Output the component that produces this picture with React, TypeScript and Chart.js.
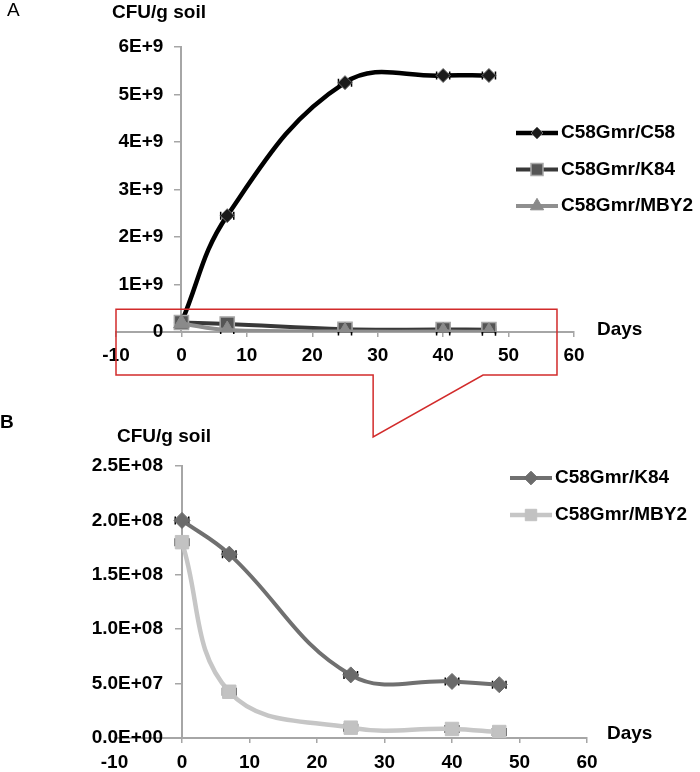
import React, { useEffect, useRef } from 'react';
import { Chart, registerables } from 'chart.js';
import { drawPoint } from 'chart.js/helpers';

Chart.register(...registerables);

// ---------- data ----------
const days = [0, 7, 25, 40, 47];
const dayErr = [1, 1, 1, 1, 1];
const xMin = -10;
const xMax = 60;
const xStep = 10;

const c58 = [2.0e8, 2.45e9, 5.25e9, 5.4e9, 5.4e9];
const k84 = [2.0e8, 1.69e8, 5.8e7, 5.2e7, 4.9e7];
const mby2 = [1.8e8, 4.25e7, 9.5e6, 8.3e6, 5.5e6];

const namesA = ['C58Gmr/C58', 'C58Gmr/K84', 'C58Gmr/MBY2'];
const namesB = ['C58Gmr/K84', 'C58Gmr/MBY2'];

const yMaxA = 6e9;
const yStepA = 1e9;
const yMaxB = 2.5e8;
const yStepB = 5e7;

const yTitle = 'CFU/g soil';
const xTitle = 'Days';
const panelA = 'A';
const panelB = 'B';

// ---------- helpers ----------
const FONT = '"Liberation Sans", Arial, Helvetica, sans-serif';
const tickFont = { family: FONT, size: 19, weight: 'bold' as const };
const AXIS_GRAY = '#a6a6a6';

function sci(v: number, digits: number, padExp: boolean): string {
  const [m, e] = v.toExponential(digits).split('e');
  const n = parseInt(e, 10);
  const sign = n < 0 ? '-' : '+';
  const ea = String(Math.abs(n));
  return `${m}E${sign}${padExp ? ea.padStart(2, '0') : ea}`;
}

const pts = (ys: number[]) => days.map((d, i) => ({ x: d, y: ys[i] }));

const decorPlugin = {
  id: 'decor',
  beforeDraw(chart: any, _args: any, opts: any) {
    // y axis sits at x = 0: move its labels away from the axis line
    const ys = chart.scales.y;
    const items = ys.getLabelItems(chart.chartArea);
    items.forEach((it: any) => {
      if (it.__shifted) return;
      it.__shifted = true;
      it.options.translation = [it.options.translation[0] - (opts.yLabelShift || 0), it.options.translation[1]];
    });
  },
  beforeDatasetsDraw(chart: any) {
    const ctx = chart.ctx;
    const xs = chart.scales.x;
    const ys = chart.scales.y;
    ctx.save();
    chart.data.datasets.forEach((ds: any) => {
      if (!ds.xErr) return;
      ds.data.forEach((p: any, i: number) => {
        const e = ds.xErr[i];
        const x0 = xs.getPixelForValue(p.x - e);
        const x1 = xs.getPixelForValue(p.x + e);
        const y = ys.getPixelForValue(p.y);
        ctx.strokeStyle = '#000';
        ctx.lineWidth = 1.5;
        ctx.beginPath();
        ctx.moveTo(x0, y);
        ctx.lineTo(x1, y);
        ctx.moveTo(x0, y - 4);
        ctx.lineTo(x0, y + 4);
        ctx.moveTo(x1, y - 4);
        ctx.lineTo(x1, y + 4);
        ctx.stroke();
      });
    });
    ctx.restore();
  },
  afterDraw(chart: any, _args: any, opts: any) {
    const ctx = chart.ctx;
    const xs = chart.scales.x;
    const ys = chart.scales.y;
    ctx.save();
    ctx.textBaseline = 'middle';
    ctx.textAlign = 'left';
    ctx.fillStyle = '#000';
    (opts.texts || []).forEach((t: any) => {
      ctx.font = `${t.weight} ${t.size}px ${FONT}`;
      ctx.fillText(t.text, t.x, t.y);
    });
    const lg = opts.legend;
    if (lg) {
      chart.data.datasets.forEach((ds: any, i: number) => {
        const y = lg.y0 + i * lg.dy;
        ctx.strokeStyle = ds.borderColor;
        ctx.lineWidth = ds.borderWidth;
        ctx.lineCap = 'butt';
        ctx.beginPath();
        ctx.moveTo(lg.x, y);
        ctx.lineTo(lg.x + lg.len, y);
        ctx.stroke();
        ctx.fillStyle = ds.pointBackgroundColor;
        ctx.strokeStyle = ds.pointBorderColor;
        ctx.lineWidth = ds.pointBorderWidth;
        drawPoint(
          ctx,
          { pointStyle: ds.pointStyle, radius: ds.pointRadius * lg.scale, rotation: 0, borderWidth: ds.pointBorderWidth },
          lg.x + lg.len / 2,
          y
        );
        ctx.fillStyle = '#000';
        ctx.font = `bold 19px ${FONT}`;
        ctx.fillText(ds.label, lg.x + lg.len + lg.gap, y);
      });
    }
    const co = opts.callout;
    if (co) {
      const l = xs.getPixelForValue(co.x0);
      const r = xs.getPixelForValue(co.x1);
      const t = ys.getPixelForValue(co.yTop);
      const b = ys.getPixelForValue(0) + co.bottomOffset;
      const tipX = xs.getPixelForValue(co.tipX);
      const baseX = xs.getPixelForValue(co.baseX);
      ctx.strokeStyle = '#d22b2b';
      ctx.lineWidth = 1.5;
      ctx.beginPath();
      ctx.moveTo(l, t);
      ctx.lineTo(r, t);
      ctx.lineTo(r, b);
      ctx.lineTo(baseX, b);
      ctx.lineTo(tipX, co.tipY);
      ctx.lineTo(tipX, b);
      ctx.lineTo(l, b);
      ctx.closePath();
      ctx.stroke();
    }
    ctx.restore();
  },
};

function xScale(padding: number, height: number) {
  return {
    type: 'linear' as const,
    min: xMin,
    max: xMax,
    position: 'bottom' as const,
    afterFit: (s: any) => {
      s.height = height;
    },
    ticks: { stepSize: xStep, font: tickFont, color: '#000', padding, maxRotation: 0, autoSkip: false },
    grid: { drawOnChartArea: false, drawTicks: true, tickLength: 5, color: AXIS_GRAY, lineWidth: 1.5 },
    border: { color: AXIS_GRAY, width: 2 },
  };
}

function yScale(max: number, step: number, fmt: (v: number) => string) {
  return {
    type: 'linear' as const,
    min: 0,
    max,
    position: { x: 0 } as any,
    afterFit: (s: any) => {
      s.width = 0;
    },
    ticks: { stepSize: step, font: tickFont, color: '#000', padding: 12, callback: (v: any) => fmt(Number(v)) },
    grid: { drawOnChartArea: false, drawTicks: true, tickLength: 6, color: AXIS_GRAY, lineWidth: 1.5 },
    border: { color: AXIS_GRAY, width: 2 },
  };
}

function configA(): any {
  return {
    type: 'line',
    data: {
      datasets: [
        {
          label: namesA[0],
          data: pts(c58),
          xErr: dayErr,
          borderColor: '#000000',
          borderWidth: 4.5,
          pointStyle: 'rectRot',
          pointRadius: 7,
          pointBackgroundColor: '#1a1a1a',
          pointBorderColor: '#6e6e6e',
          pointBorderWidth: 1,
          tension: 0.4,
          order: 2,
        },
        {
          label: namesA[1],
          data: pts(k84),
          xErr: dayErr,
          borderColor: '#383838',
          borderWidth: 4,
          pointStyle: 'rect',
          pointRadius: 10,
          pointBackgroundColor: '#555555',
          pointBorderColor: '#a8a8a8',
          pointBorderWidth: 1.5,
          tension: 0.4,
          order: 1,
        },
        {
          label: namesA[2],
          data: pts(mby2),
          xErr: dayErr,
          borderColor: '#8f8f8f',
          borderWidth: 4,
          pointStyle: 'triangle',
          pointRadius: 9,
          pointBackgroundColor: '#8a8a8a',
          pointBorderColor: '#8a8a8a',
          pointBorderWidth: 1,
          tension: 0.4,
          order: 0,
        },
      ],
    },
    options: {
      responsive: false,
      animation: false,
      events: [],
      layout: { padding: { left: 116, right: 126, top: 47, bottom: 78 } },
      scales: {
        x: xScale(7, 35),
        y: yScale(yMaxA, yStepA, (v) => (v === 0 ? '0' : sci(v, 0, false))),
      },
      plugins: {
        legend: { display: false },
        tooltip: { enabled: false },
        decor: {
          yLabelShift: 18,
          texts: [
            { text: panelA, x: 7, y: 11, size: 19, weight: 'normal' },
            { text: yTitle, x: 112, y: 13, size: 19, weight: 'bold' },
            { text: xTitle, x: 597, y: 330, size: 19, weight: 'bold' },
          ],
          legend: { x: 516, y0: 133, dy: 36.5, len: 42, gap: 3, scale: 0.85 },
          callout: { x0: -10, x1: 57.4, yTop: 4.8e8, bottomOffset: 43, tipX: 29.3, baseX: 46.1, tipY: 437 },
        },
      },
    },
    plugins: [decorPlugin],
  };
}

function configB(): any {
  return {
    type: 'line',
    data: {
      datasets: [
        {
          label: namesB[0],
          data: pts(k84),
          xErr: dayErr,
          borderColor: '#707070',
          borderWidth: 4,
          pointStyle: 'rectRot',
          pointRadius: 8,
          pointBackgroundColor: '#6b6b6b',
          pointBorderColor: '#6b6b6b',
          pointBorderWidth: 1,
          tension: 0.4,
          order: 1,
        },
        {
          label: namesB[1],
          data: pts(mby2),
          xErr: dayErr,
          borderColor: '#c6c6c6',
          borderWidth: 4.5,
          pointStyle: 'rect',
          pointRadius: 9.5,
          pointBackgroundColor: '#c2c2c2',
          pointBorderColor: '#c2c2c2',
          pointBorderWidth: 1,
          tension: 0.4,
          order: 0,
        },
      ],
    },
    options: {
      responsive: false,
      animation: false,
      events: [],
      layout: { padding: { left: 114.5, right: 113, top: 71, bottom: 0 } },
      scales: {
        x: xScale(8, 34),
        y: yScale(yMaxB, yStepB, (v) => sci(v, 1, true)),
      },
      plugins: {
        legend: { display: false },
        tooltip: { enabled: false },
        decor: {
          yLabelShift: 19,
          texts: [
            { text: panelB, x: 0, y: 28, size: 19, weight: 'bold' },
            { text: yTitle, x: 117, y: 42, size: 19, weight: 'bold' },
            { text: xTitle, x: 607, y: 339, size: 19, weight: 'bold' },
          ],
          legend: { x: 510, y0: 83, dy: 37, len: 42, gap: 3, scale: 0.85 },
        },
      },
    },
    plugins: [decorPlugin],
  };
}

function Panel({ make, top, height }: { make: () => any; top: number; height: number }) {
  const ref = useRef<HTMLCanvasElement>(null);
  useEffect(() => {
    const chart = new Chart(ref.current as HTMLCanvasElement, make());
    return () => chart.destroy();
  }, [make]);
  return (
    <canvas
      ref={ref}
      width={700}
      height={height}
      style={{ position: 'absolute', left: 0, top, width: 700, height, display: 'block' }}
    />
  );
}

export default function App() {
  return (
    <div style={{ position: 'absolute', left: 0, top: 0, width: 700, height: 772, background: '#fff', overflow: 'hidden' }}>
      <Panel make={configA} top={0} height={445} />
      <Panel make={configB} top={395} height={377} />
    </div>
  );
}
